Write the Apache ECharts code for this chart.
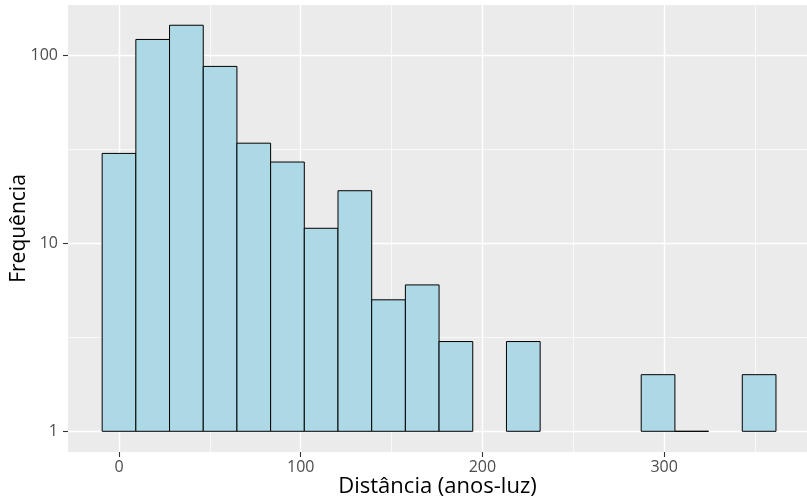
<!DOCTYPE html>
<html>
<head>
<meta charset="utf-8">
<script src="https://cdn.jsdelivr.net/npm/echarts@6/dist/echarts.min.js"></script>
<style>
  html, body { margin: 0; padding: 0; background: #ffffff; }
  #chart { width: 807px; height: 501px; }
</style>
</head>
<body>
<div id="chart"></div>
<script>
// Histogram of distances (light-years), frequency on a log10 scale
const binWidth = 18.54;
const binCenters = [0, 18.54, 37.08, 55.62, 74.16, 92.7, 111.24, 129.78, 148.32, 166.86,
                    185.4, 203.94, 222.48, 241.02, 259.56, 278.1, 296.64, 315.18, 333.72, 352.26];
const counts = [30, 121, 144, 87, 34, 27, 12, 19, 5, 6,
                3, 0, 3, 0, 0, 0, 2, 1, 0, 2];

const xMajorTicks = [0, 100, 200, 300];
const xMinorTicks = [50, 150, 250, 350];
const yMajorTicks = [1, 10, 100];
const yMinorTicks = [Math.sqrt(10), Math.sqrt(1000)];

const xTitle = 'Distância (anos-luz)';
const yTitle = 'Frequência';

const FONT = '"Open Sans"';
const log10 = v => Math.log10(v);

// bins with zero count vanish on a log scale
const barData = [];
binCenters.forEach((c, i) => {
  if (counts[i] > 0) barData.push([c - binWidth / 2, c + binWidth / 2, log10(counts[i])]);
});

const chart = echarts.init(document.getElementById('chart'), null, { renderer: 'canvas' });

const xRange = { min: -28.07, max: 378.6 };
const yRange = { min: -0.110, max: 2.266 };

chart.setOption({
  backgroundColor: '#ffffff',
  animation: false,
  grid: {
    left: 68, right: 0, top: 5, bottom: 49,
    containLabel: false, outerBoundsMode: 'none',
    show: true, backgroundColor: '#EBEBEB', borderWidth: 0
  },
  xAxis: [
    {
      type: 'value', min: xRange.min, max: xRange.max,
      name: xTitle, nameLocation: 'middle', nameGap: 24, nameMoveOverlap: false,
      nameTextStyle: { fontFamily: FONT, fontSize: 22, color: '#000000' },
      axisLine: { show: false, onZero: false },
      axisTick: { show: true, length: 5, customValues: xMajorTicks,
                  lineStyle: { color: '#333333', width: 1.1 } },
      axisLabel: { customValues: xMajorTicks, margin: 7,
                   fontFamily: FONT, fontSize: 16, color: '#4D4D4D' },
      splitLine: { show: true, lineStyle: { color: '#ffffff', width: 1.4 } }
    },
    {
      type: 'value', min: xRange.min, max: xRange.max, position: 'top',
      axisLine: { show: false, onZero: false },
      axisTick: { show: false, customValues: xMinorTicks },
      axisLabel: { show: false },
      splitLine: { show: true, lineStyle: { color: '#ffffff', width: 0.7 } }
    }
  ],
  yAxis: [
    {
      type: 'value', min: yRange.min, max: yRange.max,
      name: yTitle, nameLocation: 'middle', nameGap: 38, nameRotate: 90,
      nameMoveOverlap: false,
      nameTextStyle: { fontFamily: FONT, fontSize: 21, color: '#000000' },
      axisLine: { show: false, onZero: false },
      axisTick: { show: true, length: 5, customValues: yMajorTicks.map(log10),
                  lineStyle: { color: '#333333', width: 1.1 } },
      axisLabel: { customValues: yMajorTicks.map(log10), margin: 10,
                   fontFamily: FONT, fontSize: 16, color: '#4D4D4D',
                   formatter: v => String(Math.round(Math.pow(10, v))) },
      splitLine: { show: true, lineStyle: { color: '#ffffff', width: 1.4 } }
    },
    {
      type: 'value', min: yRange.min, max: yRange.max, position: 'right',
      axisLine: { show: false, onZero: false },
      axisTick: { show: false, customValues: yMinorTicks.map(log10) },
      axisLabel: { show: false },
      splitLine: { show: true, lineStyle: { color: '#ffffff', width: 0.7 } }
    }
  ],
  series: [{
    type: 'custom',
    xAxisIndex: 0, yAxisIndex: 0,
    data: barData,
    z: 5,
    renderItem: function (params, api) {
      const p0 = api.coord([api.value(0), api.value(2)]);
      const p1 = api.coord([api.value(1), 0]);
      return {
        type: 'rect',
        shape: { x: p0[0], y: p0[1], width: p1[0] - p0[0], height: p1[1] - p0[1] },
        style: { fill: '#ADD8E6', stroke: '#000000', lineWidth: 1 }
      };
    }
  }]
});
</script>
</body>
</html>
